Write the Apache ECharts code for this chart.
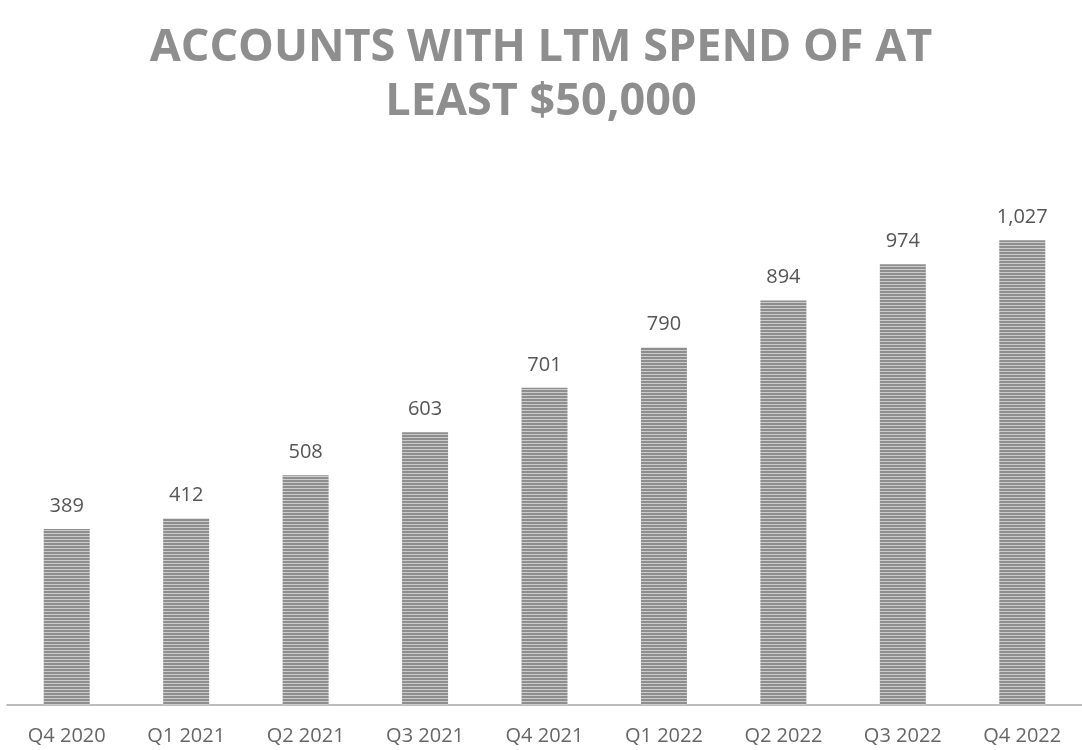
<!DOCTYPE html>
<html style="height: 100%">
<head>
    <meta charset="utf-8">
</head>
<body style="height: 100%; margin: 0; background: #fff">
<div id="container" style="width: 1082px; height: 750px"></div>
<script type="text/javascript" src="https://cdn.jsdelivr.net/npm/echarts@6/dist/echarts.min.js"></script>
<script type="text/javascript">
    var quarters = ['Q4 2020', 'Q1 2021', 'Q2 2021', 'Q3 2021', 'Q4 2021', 'Q1 2022', 'Q2 2022', 'Q3 2022', 'Q4 2022'];
    var accounts = [389, 412, 508, 603, 701, 790, 894, 974, 1027];

    // striped fill for the bars
    var stripe = document.createElement('canvas');
    stripe.width = 4;
    stripe.height = 3;
    var ctx = stripe.getContext('2d');
    ctx.fillStyle = '#cbcbcb';
    ctx.fillRect(0, 0, 4, 3);
    ctx.fillStyle = '#8e8e8e';
    ctx.fillRect(0, 0, 4, 2);

    var dom = document.getElementById('container');
    var myChart = echarts.init(dom);
    var option = {
        backgroundColor: '#fff',
        title: {
            text: 'ACCOUNTS WITH LTM SPEND OF AT\nLEAST $50,000',
            left: 'center',
            top: 16,
            textStyle: {
                fontFamily: 'Open Sans',
                fontWeight: 'bold',
                fontSize: 45,
                lineHeight: 54,
                color: '#8e8e8e'
            }
        },
        grid: {
            left: 7,
            right: -4,
            top: 162,
            bottom: 45
        },
        xAxis: {
            type: 'category',
            data: quarters,
            axisLine: { lineStyle: { color: '#a6a6a6', width: 1.5 } },
            axisTick: { show: false },
            axisLabel: {
                fontFamily: 'Open Sans',
                fontSize: 20,
                color: '#666',
                margin: 21
            }
        },
        yAxis: {
            type: 'value',
            min: 0,
            max: 1200,
            show: false,
            splitLine: { show: false }
        },
        series: [{
            type: 'bar',
            data: accounts,
            barWidth: 46,
            itemStyle: {
                color: { image: stripe, repeat: 'repeat' }
            },
            label: {
                show: true,
                position: 'top',
                distance: 13,
                fontFamily: 'Open Sans',
                fontSize: 20,
                color: '#555',
                formatter: function (p) {
                    return p.value.toLocaleString('en-US');
                }
            }
        }]
    };
    myChart.setOption(option, true);
</script>
</body>
</html>
